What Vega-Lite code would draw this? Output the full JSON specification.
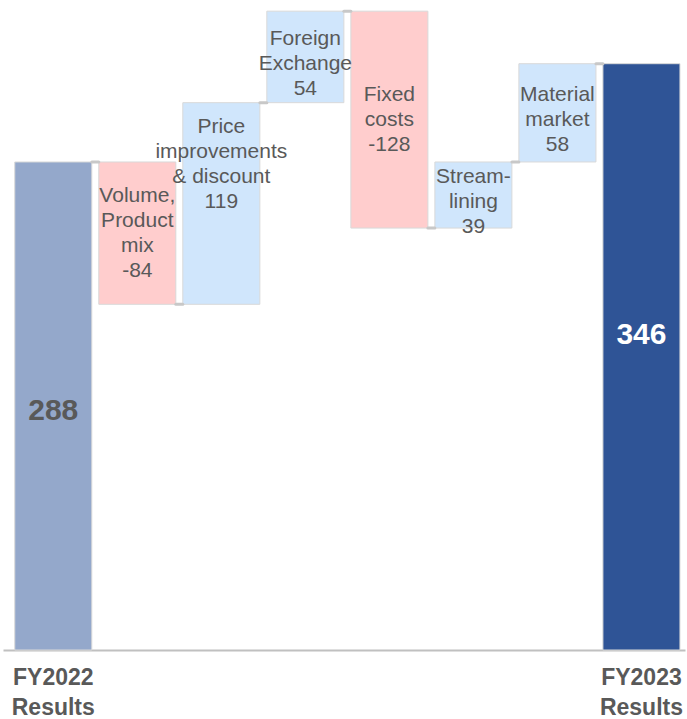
{
  "$schema": "https://vega.github.io/schema/vega-lite/v6.json",
  "autosize": {"type": "none"},
  "width": 682,
  "height": 649,
  "padding": {"left": 3, "right": 2, "top": 1, "bottom": 69},
  "background": "white",
  "config": {
    "view": {"stroke": null},
    "text": {"font": "Liberation Sans", "lineBreak": "\n"},
    "axis": {"labelFont": "Liberation Sans"}
  },
  "data": {
    "values": [
      {"cat": "FY2022 Results", "label": "288", "start": 0, "end": 288, "kind": "total1", "next": "Volume"},
      {"cat": "Volume", "label": "Volume,\nProduct\nmix\n-84", "start": 288, "end": 204, "kind": "neg", "next": "Price"},
      {"cat": "Price", "label": "Price\nimprovements\n& discount\n119", "start": 204, "end": 323, "kind": "pos", "next": "FX"},
      {"cat": "FX", "label": "Foreign\nExchange\n54", "start": 323, "end": 377, "kind": "pos", "next": "Fixed"},
      {"cat": "Fixed", "label": "Fixed\ncosts\n-128", "start": 377, "end": 249, "kind": "neg", "next": "Stream"},
      {"cat": "Stream", "label": "Stream-\nlining\n39", "start": 249, "end": 288, "kind": "pos", "next": "Material"},
      {"cat": "Material", "label": "Material\nmarket\n58", "start": 288, "end": 346, "kind": "pos", "next": "FY2023 Results"},
      {"cat": "FY2023 Results", "label": "346", "start": 0, "end": 346, "kind": "total2", "next": null}
    ]
  },
  "transform": [{"calculate": "(datum.start + datum.end) / 2", "as": "mid"}],
  "encoding": {
    "x": {
      "field": "cat",
      "type": "nominal",
      "sort": null,
      "scale": {"paddingInner": 0.083, "paddingOuter": 0.1, "align": 0.7},
      "axis": {
        "title": null,
        "ticks": false,
        "domainColor": "#c0c0c0",
        "domainWidth": 2,
        "labelAngle": 0,
        "labelExpr": "indexof(datum.value, 'FY') == 0 ? split(datum.value, ' ') : ''",
        "labelFontSize": 23,
        "labelFontWeight": "bold",
        "labelColor": "#595959",
        "labelLineHeight": 30,
        "labelPadding": 16,
        "labelOverlap": false,
        "labelFlush": false,
        "labelBound": false
      }
    }
  },
  "layer": [
    {
      "mark": {"type": "bar", "stroke": "#d9d9d9", "strokeWidth": 1},
      "encoding": {
        "y": {"field": "start", "type": "quantitative", "scale": {"domain": [0, 383], "nice": false}, "axis": null},
        "y2": {"field": "end"},
        "color": {
          "field": "kind",
          "type": "nominal",
          "scale": {
            "domain": ["total1", "neg", "pos", "total2"],
            "range": ["#94a8cb", "#ffcdcd", "#d0e6fc", "#2f5496"]
          },
          "legend": null
        }
      }
    },
    {
      "transform": [{"filter": "datum.next != null"}],
      "mark": {"type": "rule", "color": "#c8c8c8", "strokeWidth": 3, "strokeCap": "round"},
      "encoding": {
        "x": {"field": "cat", "type": "nominal", "sort": null, "bandPosition": 1},
        "x2": {"field": "next", "bandPosition": 0},
        "y": {"field": "end", "type": "quantitative"}
      }
    },
    {
      "transform": [{"filter": "datum.cat == 'Volume'"}],
      "mark": {"type": "text", "fontSize": 21, "color": "#595959", "lineHeight": 25, "baseline": "middle", "dy": -37},
      "encoding": {"y": {"field": "mid", "type": "quantitative"}, "text": {"field": "label"}}
    },
    {
      "transform": [{"filter": "datum.cat == 'Fixed'"}],
      "mark": {"type": "text", "fontSize": 21, "color": "#595959", "lineHeight": 25, "baseline": "middle", "dy": -25},
      "encoding": {"y": {"field": "mid", "type": "quantitative"}, "text": {"field": "label"}}
    },
    {
      "transform": [{"filter": "datum.kind == 'pos' && datum.cat != 'Price'"}],
      "mark": {"type": "text", "fontSize": 21, "color": "#595959", "lineHeight": 25, "baseline": "middle", "dy": -18},
      "encoding": {"y": {"field": "mid", "type": "quantitative"}, "text": {"field": "label"}}
    },
    {
      "transform": [{"filter": "datum.cat == 'Price'"}],
      "mark": {"type": "text", "fontSize": 21, "color": "#595959", "lineHeight": 25, "baseline": "middle", "dy": -76},
      "encoding": {"y": {"field": "mid", "type": "quantitative"}, "text": {"field": "label"}}
    },
    {
      "transform": [{"filter": "datum.kind == 'total1'"}],
      "mark": {"type": "text", "fontSize": 30, "fontWeight": "bold", "color": "#595959", "baseline": "middle", "dy": 5},
      "encoding": {"y": {"field": "mid", "type": "quantitative"}, "text": {"field": "label"}}
    },
    {
      "transform": [{"filter": "datum.kind == 'total2'"}],
      "mark": {"type": "text", "fontSize": 30, "fontWeight": "bold", "color": "white", "baseline": "middle", "dy": -22},
      "encoding": {"y": {"field": "mid", "type": "quantitative"}, "text": {"field": "label"}}
    }
  ]
}
